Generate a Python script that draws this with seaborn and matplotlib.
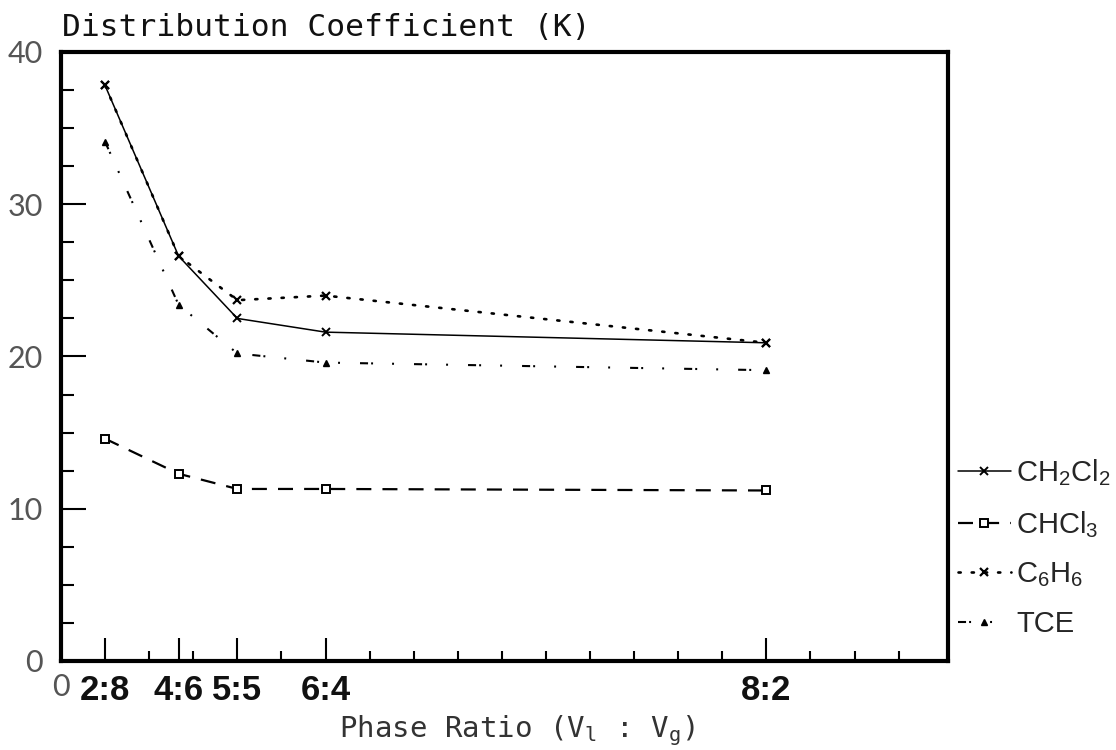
import matplotlib
matplotlib.use("Agg")
import matplotlib.pyplot as plt
import seaborn as sns
import pandas as pd

# ---- data ----
phase_labels = ["2:8", "4:6", "5:5", "6:4", "8:2"]
ch2cl2 = [37.8, 26.6, 22.5, 21.6, 20.9]
chcl3 = [14.6, 12.3, 11.3, 11.3, 11.2]
c6h6 = [37.8, 26.6, 23.7, 24.0, 20.9]
tce = [34.1, 23.4, 20.2, 19.6, 19.1]
series_names = ["CH$_2$Cl$_2$", "CHCl$_3$", "C$_6$H$_6$", "TCE"]
y_ticks = [0, 10, 20, 30, 40]

# phase ratio V_l / V_g as the x position
x_ratio = [int(s.split(":")[0]) / int(s.split(":")[1]) for s in phase_labels]

sns.set_theme(style="white")
plt.rcParams["font.family"] = ["Liberation Sans", "DejaVu Sans"]
plt.rcParams["mathtext.default"] = "regular"
plt.rcParams["lines.scale_dashes"] = False

fig = plt.figure(figsize=(11.16, 7.5), dpi=100)
ax = fig.add_axes([61 / 1116, 1 - 661 / 750, (948 - 61) / 1116, (661 - 52) / 750])

styles = [
    dict(linestyle="-", lw=1.1, marker="x", ms=6, mew=1.4),
    dict(linestyle=(0, (10.8, 8.0)), lw=1.6, marker="s", ms=6, mew=1.4, mfc="white"),
    dict(linestyle=(0, (1.6, 7.9)), lw=1.9, marker="x", ms=6, mew=1.6, dash_capstyle="round"),
    dict(linestyle=(0, (5.8, 2.2, 1.4, 13.7, 1.4, 14.4)), lw=1.5, marker="^", ms=5, mew=1.0),
]
values = [ch2cl2, chcl3, c6h6, tce]

for name, vals, st in zip(series_names, values, styles):
    df = pd.DataFrame({"ratio": x_ratio, "K": vals})
    sns.lineplot(data=df, x="ratio", y="K", ax=ax, color="black", label=name,
                 mec="black", **st)

ax.set_xlim(0, 5.03)
ax.set_ylim(0, 40)

# x ticks
ax.set_xticks([0] + x_ratio)
ax.set_xticklabels(["0"] + phase_labels)
ax.set_xticks([i * 0.25 for i in range(1, 20) if i * 0.25 not in x_ratio], minor=True)
ax.set_yticks(y_ticks)
ax.set_yticklabels([str(v) for v in y_ticks])
ax.set_yticks([v + 2.5 * k for v in range(0, 40, 10) for k in (1, 2, 3)], minor=True)

ax.tick_params(axis="both", which="both", direction="in", color="black", width=1.5,
               bottom=True, left=True, top=False, right=False)
ax.tick_params(axis="x", which="major", length=16.5, pad=9)
ax.tick_params(axis="x", which="minor", length=7.5)
ax.tick_params(axis="y", which="major", length=18, pad=13)
ax.tick_params(axis="y", which="minor", length=9)

for lab in ax.get_xticklabels():
    if lab.get_text() == "0":
        lab.set_fontfamily(["Lato", "DejaVu Sans"])
        lab.set_fontweight("normal")
        lab.set_fontsize(22)
        lab.set_color("#555555")
    else:
        lab.set_fontfamily(["Liberation Sans", "DejaVu Sans"])
        lab.set_fontweight("bold")
        lab.set_fontsize(25)
        lab.set_color("#111111")
for lab in ax.get_yticklabels():
    lab.set_fontfamily(["Lato", "DejaVu Sans"])
    lab.set_fontweight("normal")
    lab.set_fontsize(22)
    lab.set_color("#555555")

for sp in ax.spines.values():
    sp.set_visible(True)
    sp.set_color("black")
    sp.set_linewidth(3)

ax.set_xlabel("")
ax.set_ylabel("")

fig.text(62 / 1116, 1 - 27 / 750, "Distribution Coefficient (K)",
         family=["DejaVu Sans Mono"], fontsize=22.5, color="#111111",
         ha="left", va="center")
fig.text(517 / 1116, 1 - 731 / 750, "Phase Ratio (V$_l$ : V$_g$)",
         family=["DejaVu Sans Mono"], fontsize=21, color="#333333",
         ha="center", va="center")

ax.get_legend().remove()
handles, labels = ax.get_legend_handles_labels()
fig.legend(handles, labels, loc="upper left", bbox_to_anchor=(958 / 1116, 1 - 457 / 750),
           frameon=False, fontsize=21, handlelength=1.8, handletextpad=0.2,
           borderpad=0, borderaxespad=0, labelspacing=0.72, numpoints=1)

fig.savefig("out.png", dpi=100, facecolor="white")
